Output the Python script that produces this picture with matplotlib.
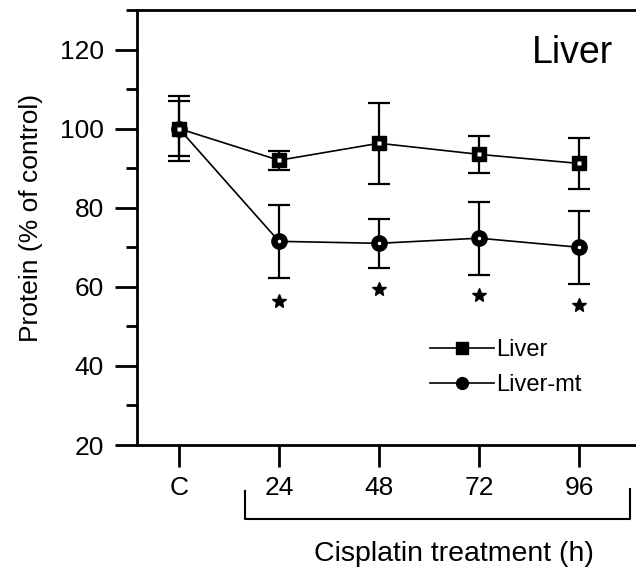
import matplotlib
matplotlib.use("Agg")
import matplotlib.pyplot as plt
from matplotlib.lines import Line2D
from matplotlib.ticker import MultipleLocator

plt.rcParams['font.family'] = ['Liberation Sans', 'DejaVu Sans']

categories = ["C", "24", "48", "72", "96"]
liver_mean = [100.0, 92.0, 96.3, 93.5, 91.2]
liver_err = [7.0, 2.4, 10.2, 4.6, 6.5]
livermt_mean = [100.0, 71.5, 71.0, 72.3, 70.0]
livermt_err = [8.3, 9.3, 6.2, 9.2, 9.2]
star_idx = [1, 2, 3, 4]
star_y = [56.5, 59.5, 58.0, 55.5]

W, H = 636, 572
fig = plt.figure(figsize=(W / 100, H / 100), dpi=100)
ax = fig.add_axes([137 / W, 1 - 445 / H, (636 - 137) / W, (445 - 10) / H])

x = list(range(len(categories)))

ax.errorbar(x, liver_mean, yerr=liver_err, color='black', lw=1.2,
            elinewidth=1.6, capsize=8, capthick=1.6, marker='s', ms=10,
            mfc='black', mec='black', label='Liver', zorder=3)
ax.errorbar(x, livermt_mean, yerr=livermt_err, color='black', lw=1.2,
            elinewidth=1.6, capsize=8, capthick=1.6, marker='o', ms=11,
            mfc='black', mec='black', label='Liver-mt', zorder=3)
# small white specks inside markers
ax.plot(x, liver_mean, ls='none', marker='s', ms=2.5, mfc='white', mec='none', zorder=4)
ax.plot(x, livermt_mean, ls='none', marker='o', ms=2.5, mfc='white', mec='none', zorder=4)

ax.plot(star_idx, star_y, ls='none', marker='*', ms=10, color='black')

ax.set_xlim(-0.42, 4.57)
ax.set_ylim(20, 130)
ax.yaxis.set_major_locator(MultipleLocator(20))
ax.yaxis.set_minor_locator(MultipleLocator(10))
ax.set_yticks([20, 40, 60, 80, 100, 120])
ax.set_xticks(x)
ax.set_xticklabels(categories)

ax.spines['right'].set_visible(False)
for s in ['left', 'top', 'bottom']:
    ax.spines[s].set_linewidth(2.0)

ax.tick_params(axis='y', which='major', direction='out', length=16, width=2,
               labelsize=19, pad=8)
ax.tick_params(axis='y', which='minor', direction='out', length=8, width=2)
ax.tick_params(axis='x', which='major', direction='out', length=16, width=2,
               labelsize=19, pad=6)

ax.set_ylabel("Protein (% of control)", fontsize=19)
ax.yaxis.set_label_coords((43 - 137) / 499, (445 - 218) / 435)

ax.text((613 - 137) / 499, (445 - 53) / 435, "Liver", transform=ax.transAxes,
        ha='right', va='center', fontsize=27)

handles = [
    Line2D([], [], color='black', lw=1.2, marker='s', ms=8, mfc='black', mec='black'),
    Line2D([], [], color='black', lw=1.2, marker='o', ms=8.5, mfc='black', mec='black'),
]
leg = ax.legend(handles, ['Liver', 'Liver-mt'], loc='upper left',
                bbox_to_anchor=((430 - 137) / 499, (445 - 339) / 435),
                frameon=False, fontsize=17, handlelength=2.7,
                handletextpad=0.1, labelspacing=0.55, borderpad=0,
                borderaxespad=0)

# bracket under treatment ticks
fx = lambda px: px / W
fy = lambda py: 1 - py / H
br = Line2D([fx(245), fx(245), fx(630), fx(630)],
            [fy(491), fy(519), fy(519), fy(489)],
            transform=fig.transFigure, color='black', lw=1.5)
fig.add_artist(br)

fig.text(fx(454), fy(554), "Cisplatin treatment (h)", ha='center', va='center',
         fontsize=20.5)

fig.savefig("out.png", dpi=100)
